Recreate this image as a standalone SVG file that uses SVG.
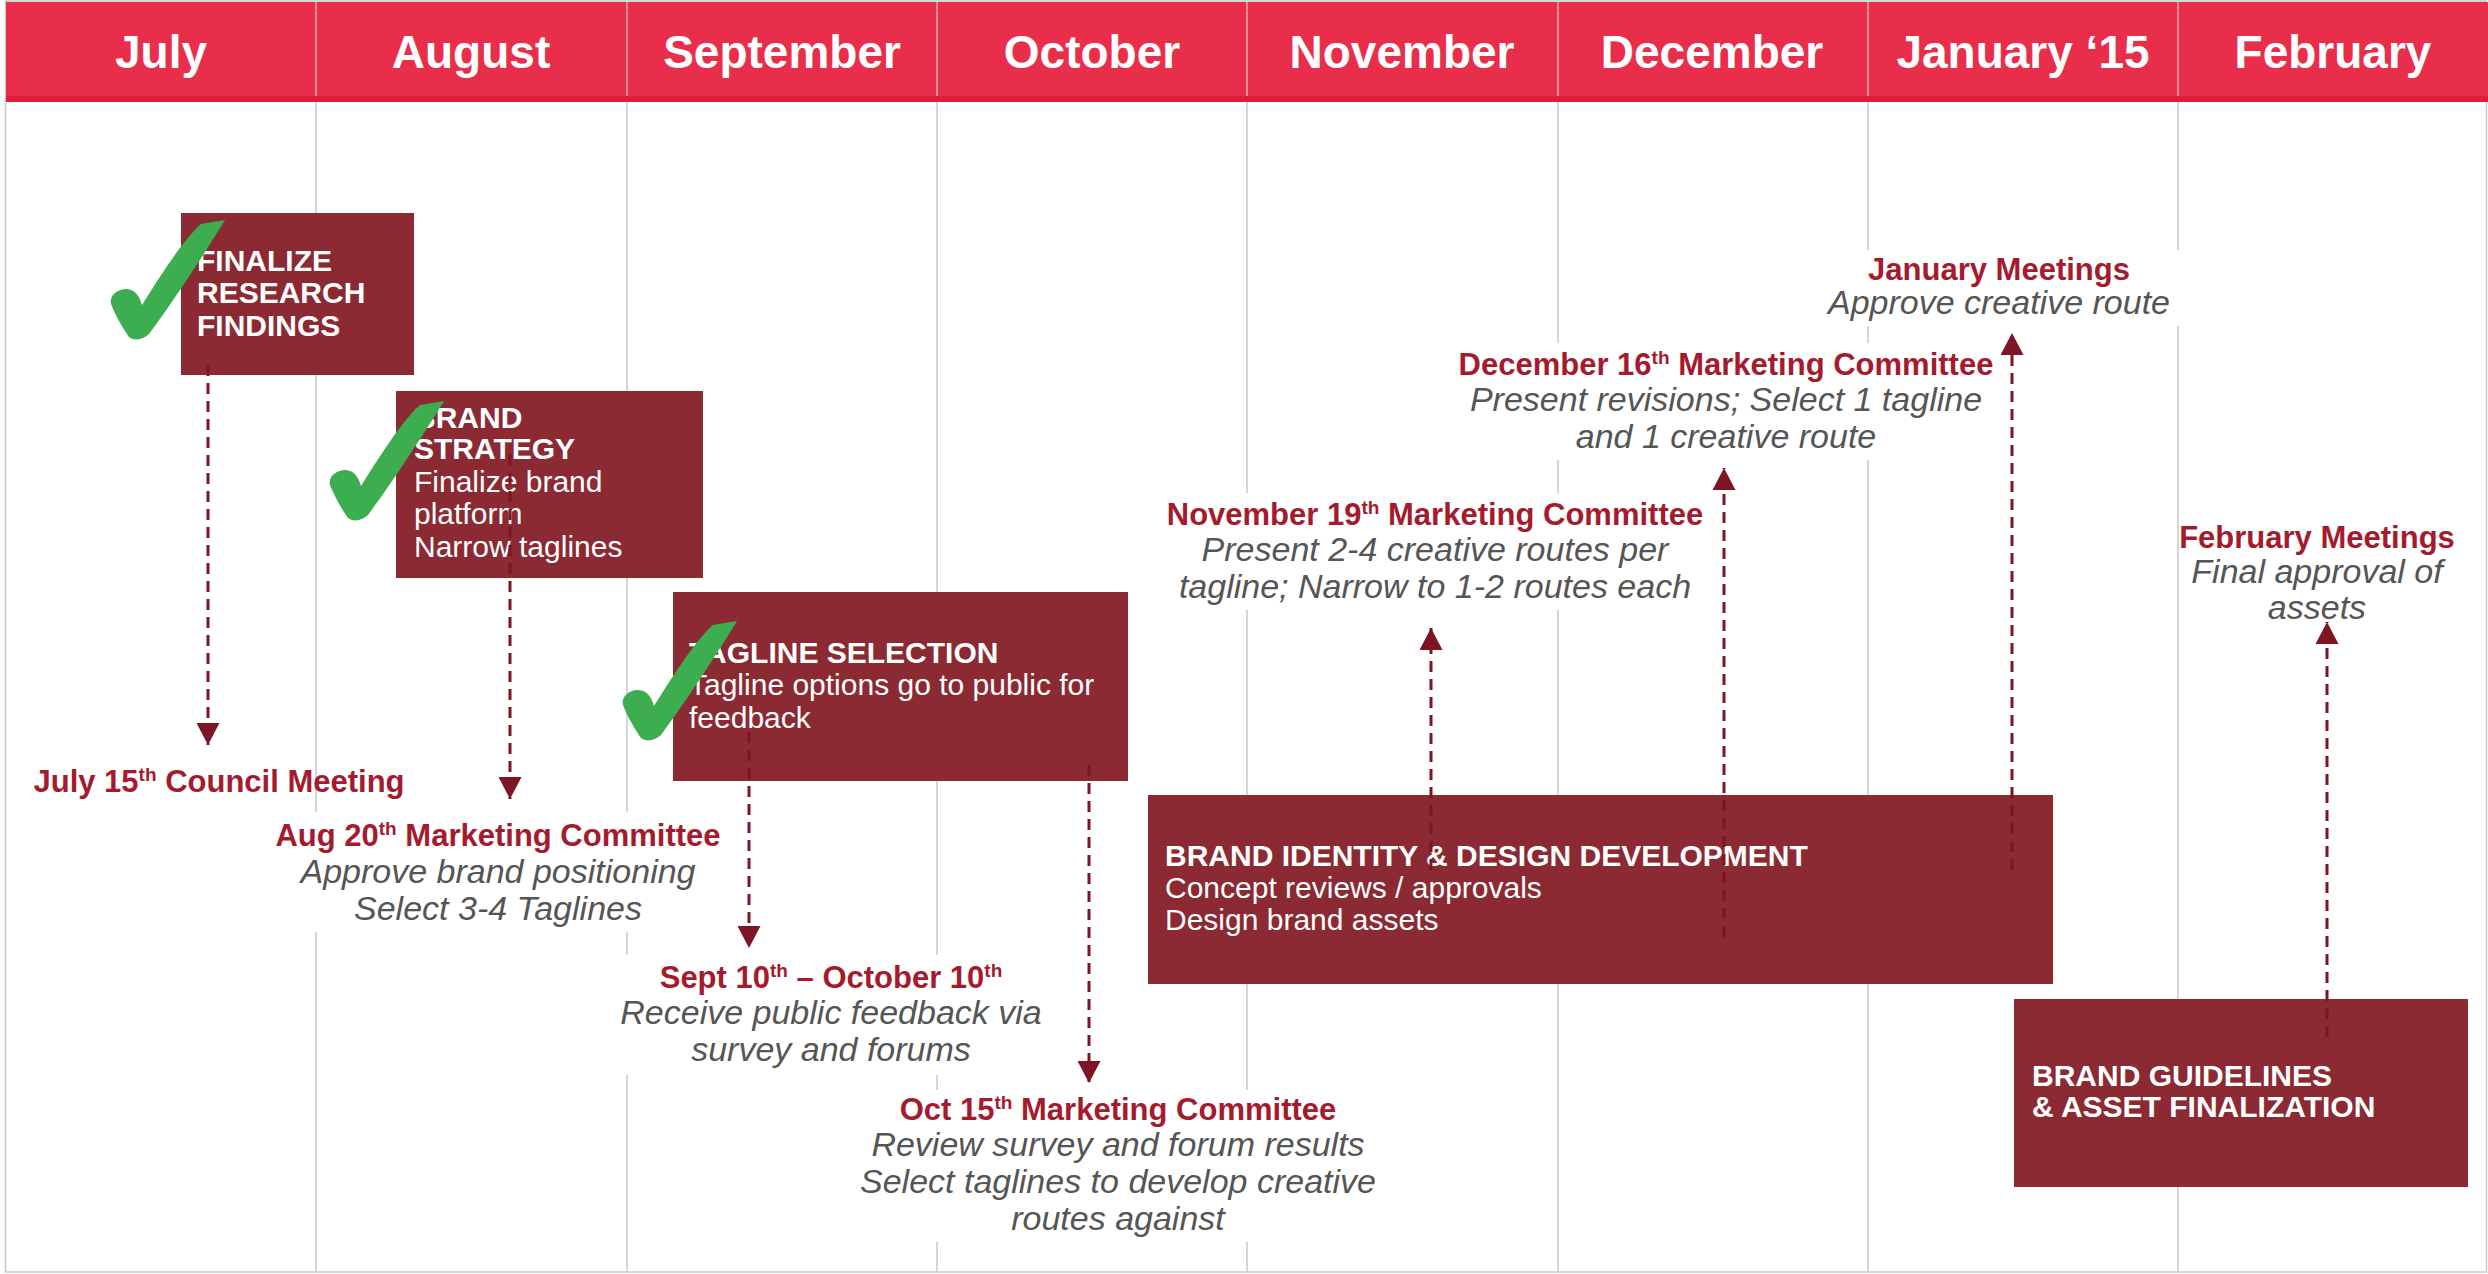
<svg xmlns="http://www.w3.org/2000/svg" width="2488" height="1274" viewBox="0 0 2488 1274">
<style>
.month{font-family:"Liberation Sans",Arial,sans-serif;font-weight:bold;font-size:46px;fill:#fff;text-anchor:middle}
.bt{font-family:"Liberation Sans",Arial,sans-serif;font-weight:bold;font-size:30px;fill:#fff}
.bb{font-family:"Liberation Sans",Arial,sans-serif;font-size:30px;fill:#fff}
.box{fill:#8B2A33}
.lt{font-family:"Liberation Sans",Arial,sans-serif;font-weight:bold;font-size:31px;fill:#A51B2E;text-anchor:middle}
.li{font-family:"Liberation Sans",Arial,sans-serif;font-style:italic;font-size:34px;fill:#555;text-anchor:middle}
.sup{font-size:19px}
.bg{fill:#fff}
.grid{stroke:#c8c8c8;stroke-width:1.5}
.hsep{stroke:#f4a8b4;stroke-width:1.5}
.conn{stroke:#7D1524;stroke-width:3;stroke-dasharray:11 7;fill:none;marker-end:url(#arrow)}
.check{fill:#3DAE50}
</style>
<defs>
<marker id="arrow" markerUnits="userSpaceOnUse" markerWidth="23" markerHeight="23" refX="22" refY="11.5" orient="auto">
<path d="M0,0 L22,11.5 L0,23 Z" fill="#7D1524"/>
</marker>
<path id="checkShape" d="M90,4 L114,0 C107,12 64,80 38,114 C32,120 23,121 18,117 C13,110 4,95 0,84 C-2,75 7,69 15,69 C25,69 29,78 31,85 C47,60 70,22 90,4 Z"/>
</defs>
<rect x="0" y="0" width="2488" height="1274" fill="#fff"/>
<g id="grid">
<rect x="5.5" y="1" width="2481" height="1271" fill="none" stroke="#c8c8c8" stroke-width="1.5"/>
<line class="grid" x1="316" y1="102" x2="316" y2="1272"/>
<line class="grid" x1="627" y1="102" x2="627" y2="1272"/>
<line class="grid" x1="937" y1="102" x2="937" y2="1272"/>
<line class="grid" x1="1247" y1="102" x2="1247" y2="1272"/>
<line class="grid" x1="1558" y1="102" x2="1558" y2="1272"/>
<line class="grid" x1="1868" y1="102" x2="1868" y2="1272"/>
<line class="grid" x1="2178" y1="102" x2="2178" y2="1272"/>
</g>
<g id="header">
<rect x="6" y="2" width="2482" height="95" fill="#E82E4A"/>
<rect x="6" y="96" width="2482" height="6" fill="#DC1D3D"/>
<line class="hsep" x1="316" y1="2" x2="316" y2="96"/>
<line class="hsep" x1="627" y1="2" x2="627" y2="96"/>
<line class="hsep" x1="937" y1="2" x2="937" y2="96"/>
<line class="hsep" x1="1247" y1="2" x2="1247" y2="96"/>
<line class="hsep" x1="1558" y1="2" x2="1558" y2="96"/>
<line class="hsep" x1="1868" y1="2" x2="1868" y2="96"/>
<line class="hsep" x1="2178" y1="2" x2="2178" y2="96"/>
<text class="month" x="161" y="68">July</text>
<text class="month" x="471" y="68">August</text>
<text class="month" x="782" y="68">September</text>
<text class="month" x="1092" y="68">October</text>
<text class="month" x="1402" y="68">November</text>
<text class="month" x="1712" y="68">December</text>
<text class="month" x="2023" y="68">January ‘15</text>
<text class="month" x="2333" y="68">February</text>
</g>
<g id="label-jul15">
<text class="lt" x="219" y="792">July 15<tspan class="sup" dy="-11">th</tspan><tspan dy="11"> Council Meeting</tspan></text>
</g>
<g id="label-aug20">
<rect class="bg" x="265" y="812" width="465" height="120"/>
<text class="lt" x="498" y="846">Aug 20<tspan class="sup" dy="-11">th</tspan><tspan dy="11"> Marketing Committee</tspan></text>
<text class="li" x="498" y="883">Approve brand positioning</text>
<text class="li" x="498" y="920">Select 3-4 Taglines</text>
</g>
<g id="label-sept">
<rect class="bg" x="608" y="955" width="445" height="120"/>
<text class="lt" x="831" y="988">Sept 10<tspan class="sup" dy="-11">th</tspan><tspan dy="11"> – October 10</tspan><tspan class="sup" dy="-11">th</tspan></text>
<text class="li" x="831" y="1024">Receive public feedback via</text>
<text class="li" x="831" y="1061">survey and forums</text>
</g>
<g id="label-oct15">
<rect class="bg" x="858" y="1090" width="526" height="152"/>
<text class="lt" x="1118" y="1120">Oct 15<tspan class="sup" dy="-11">th</tspan><tspan dy="11"> Marketing Committee</tspan></text>
<text class="li" x="1118" y="1156">Review survey and forum results</text>
<text class="li" x="1118" y="1193">Select taglines to develop creative</text>
<text class="li" x="1118" y="1230">routes against</text>
</g>
<g id="label-nov19">
<rect class="bg" x="1160" y="493" width="545" height="117"/>
<text class="lt" x="1435" y="525">November 19<tspan class="sup" dy="-11">th</tspan><tspan dy="11"> Marketing Committee</tspan></text>
<text class="li" x="1435" y="561">Present 2-4 creative routes per</text>
<text class="li" x="1435" y="598">tagline; Narrow to 1-2 routes each</text>
</g>
<g id="label-dec16">
<rect class="bg" x="1455" y="343" width="540" height="117"/>
<text class="lt" x="1726" y="375">December 16<tspan class="sup" dy="-11">th</tspan><tspan dy="11"> Marketing Committee</tspan></text>
<text class="li" x="1726" y="411">Present revisions; Select 1 tagline</text>
<text class="li" x="1726" y="448">and 1 creative route</text>
</g>
<g id="label-jan">
<rect class="bg" x="1820" y="250" width="362" height="76"/>
<text class="lt" x="1999" y="280">January Meetings</text>
<text class="li" x="1999" y="314">Approve creative route</text>
</g>
<g id="label-feb">
<rect class="bg" x="2180" y="518" width="275" height="108"/>
<text class="lt" x="2317" y="548">February Meetings</text>
<text class="li" x="2317" y="583">Final approval of</text>
<text class="li" x="2317" y="619">assets</text>
</g>
<g id="box-research">
<rect class="box" x="181" y="213" width="233" height="162"/>
<text class="bt" x="197" y="271">FINALIZE</text>
<text class="bt" x="197" y="303">RESEARCH</text>
<text class="bt" x="197" y="336">FINDINGS</text>
</g>
<g id="box-strategy">
<rect class="box" x="396" y="391" width="307" height="187"/>
<text class="bt" x="414" y="428">BRAND</text>
<text class="bt" x="414" y="459">STRATEGY</text>
<text class="bb" x="414" y="492">Finalize brand</text>
<text class="bb" x="414" y="524">platform</text>
<text class="bb" x="414" y="557">Narrow taglines</text>
</g>
<g id="box-tagline">
<rect class="box" x="673" y="592" width="455" height="189"/>
<text class="bt" x="689" y="663">TAGLINE SELECTION</text>
<text class="bb" x="689" y="695">Tagline options go to public for</text>
<text class="bb" x="689" y="728">feedback</text>
</g>
<g id="box-identity">
<rect class="box" x="1148" y="795" width="905" height="189"/>
<text class="bt" x="1165" y="866">BRAND IDENTITY &amp; DESIGN DEVELOPMENT</text>
<text class="bb" x="1165" y="898">Concept reviews / approvals</text>
<text class="bb" x="1165" y="930">Design brand assets</text>
</g>
<g id="box-guidelines">
<rect class="box" x="2014" y="999" width="454" height="188"/>
<text class="bt" x="2032" y="1086">BRAND GUIDELINES</text>
<text class="bt" x="2032" y="1117">&amp; ASSET FINALIZATION</text>
</g>
<g id="connectors">
<path class="conn" d="M208,365 L208,745"/>
<path class="conn" d="M510,455 L510,799"/>
<path class="conn" d="M749,732 L749,948"/>
<path class="conn" d="M1089,765 L1089,1083"/>
<path class="conn" d="M1431,870 L1431,628"/>
<path class="conn" d="M1724,937 L1724,468"/>
<path class="conn" d="M2012,870 L2012,333"/>
<path class="conn" d="M2327,1037 L2327,622"/>
</g>
<g id="checks">
<use href="#checkShape" class="check" transform="translate(111,220)"/>
<use href="#checkShape" class="check" transform="translate(330,401)"/>
<use href="#checkShape" class="check" transform="translate(623,621)"/>
</g>
</svg>
